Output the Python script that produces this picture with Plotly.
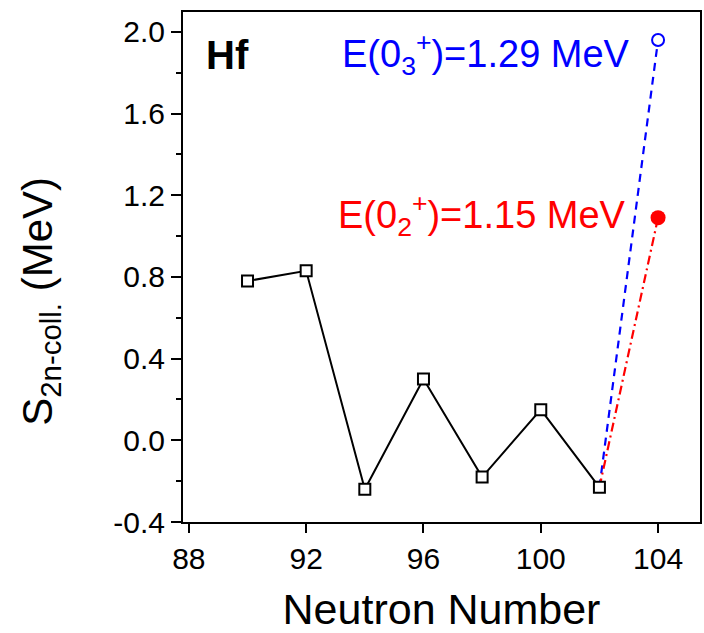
import plotly.graph_objects as go

# S_2n-coll. values for the Hf isotopes
neutrons = [90, 92, 94, 96, 98, 100, 102]
s2n_coll = [0.78, 0.83, -0.24, 0.30, -0.18, 0.15, -0.23]

# N=104 estimates from the excited 0+ states
n_104 = 104
s_0_3 = 1.96   # from E(0_3+) = 1.29 MeV
s_0_2 = 1.09   # from E(0_2+) = 1.15 MeV

font_family = "Liberation Sans, Arial, sans-serif"

fig = go.Figure()

# extrapolation lines from N=102
fig.add_trace(go.Scatter(
    x=[neutrons[-1], n_104], y=[s2n_coll[-1], s_0_3],
    mode="lines", line=dict(color="#0000ff", width=2.2, dash="8px,6px"),
    showlegend=False, hoverinfo="skip"))
fig.add_trace(go.Scatter(
    x=[neutrons[-1], n_104], y=[s2n_coll[-1], s_0_2],
    mode="lines", line=dict(color="#ff0000", width=2.2, dash="9px,4px,2px,4px"),
    showlegend=False, hoverinfo="skip"))

# measured systematics
fig.add_trace(go.Scatter(
    x=neutrons, y=s2n_coll, mode="lines+markers",
    line=dict(color="black", width=2),
    marker=dict(symbol="square", size=11, color="white",
                line=dict(color="black", width=2)),
    showlegend=False))

# N=104 points
fig.add_trace(go.Scatter(
    x=[n_104], y=[s_0_3], mode="markers",
    marker=dict(symbol="circle", size=12, color="white",
                line=dict(color="#0000ff", width=2)),
    showlegend=False))
fig.add_trace(go.Scatter(
    x=[n_104], y=[s_0_2], mode="markers",
    marker=dict(symbol="circle", size=15, color="#ff0000",
                line=dict(color="#ff0000", width=0)),
    showlegend=False))

fig.add_annotation(x=0.04, y=0.915, xref="paper", yref="paper",
                   text="<b>Hf</b>", showarrow=False,
                   xanchor="left", yanchor="middle",
                   font=dict(family=font_family, size=40, color="black"))
fig.add_annotation(x=0.868, y=0.918, xref="paper", yref="paper",
                   text="E(0<sub>3</sub><sup>+</sup>)=1.29 MeV", showarrow=False,
                   xanchor="right", yanchor="middle",
                   font=dict(family=font_family, size=38, color="#0000ff"))
fig.add_annotation(x=0.86, y=0.602, xref="paper", yref="paper",
                   text="E(0<sub>2</sub><sup>+</sup>)=1.15 MeV", showarrow=False,
                   xanchor="right", yanchor="middle",
                   font=dict(family=font_family, size=38, color="#ff0000"))

# y-axis title placed as an annotation left of the tick labels
fig.add_annotation(x=-0.2755, y=0.433, xref="paper", yref="paper",
                   text="S<sub>2n-coll.</sub> (MeV)", showarrow=False,
                   textangle=-90, xanchor="center", yanchor="middle",
                   font=dict(family=font_family, size=42, color="black"))

fig.update_layout(
    width=704, height=633,
    margin=dict(l=183, r=2, t=12, b=111),
    plot_bgcolor="white", paper_bgcolor="white",
    font=dict(family=font_family, color="black"),
)

fig.update_xaxes(
    range=[87.8, 105.43], tickvals=[88, 92, 96, 100, 104],
    ticks="outside", ticklen=9, tickwidth=2, tickcolor="black",
    showline=True, linecolor="black", linewidth=2, mirror=True,
    showgrid=False, zeroline=False,
    tickfont=dict(size=30, family=font_family),
    title=dict(text="Neutron Number", font=dict(size=43, family=font_family),
               standoff=24),
)
fig.update_yaxes(
    range=[-0.4, 2.097], tickvals=[-0.4, 0.0, 0.4, 0.8, 1.2, 1.6, 2.0],
    ticktext=["-0.4", "0.0", "0.4", "0.8", "1.2", "1.6", "2.0"],
    ticks="outside", ticklen=10, tickwidth=2, tickcolor="black",
    minor=dict(dtick=0.2, tick0=0, ticks="outside", ticklen=5,
               tickwidth=2, tickcolor="black"),
    showline=True, linecolor="black", linewidth=2, mirror=True,
    showgrid=False, zeroline=False,
    tickfont=dict(size=30, family=font_family),
)

fig.write_html("out.html")
